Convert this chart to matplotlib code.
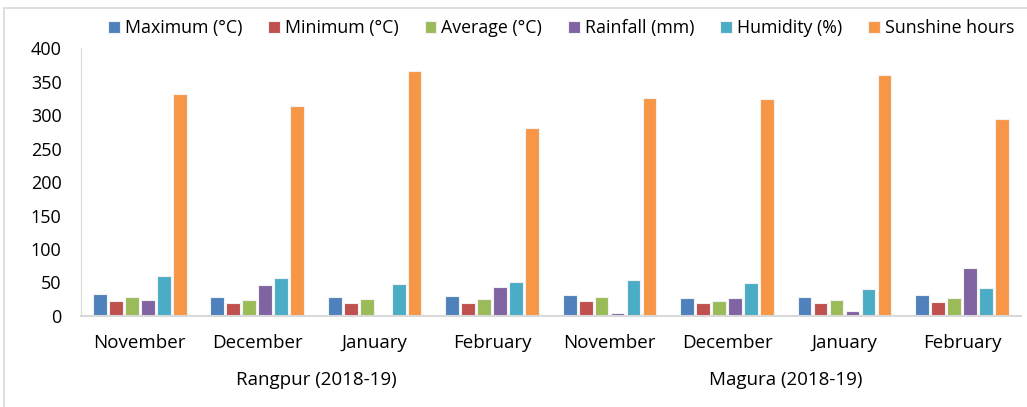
import numpy as np
import matplotlib
matplotlib.use('Agg')
import matplotlib.pyplot as plt
from matplotlib.patches import Rectangle

months = ['November', 'December', 'January', 'February',
          'November', 'December', 'January', 'February']
places = ['Rangpur (2018-19)', 'Magura (2018-19)']

series_names = ['Maximum (°C)', 'Minimum (°C)', 'Average (°C)',
                'Rainfall (mm)', 'Humidity (%)', 'Sunshine hours']
maximum = [33, 28, 29, 30, 32, 27, 29, 31]
minimum = [22, 20, 20, 20, 23, 20, 20, 21]
average = [28, 24, 25, 26, 28, 23, 24, 27]
rainfall = [24, 46, 1, 43, 4.5, 27, 7, 72]
humidity = [60, 57, 48, 50, 53, 49, 41, 42]
sunshine = [331, 314, 365, 280, 326, 324, 360, 294]

colores = ['#4F81BD', '#C0504D', '#9BBB59', '#8064A2', '#4BACC6', '#F79646']

plt.rcParams['font.family'] = ['Open Sans', 'DejaVu Sans']

fig = plt.figure(figsize=(10.27, 4.07), dpi=100)
ax = fig.add_axes([0.0789, 0.2236, 0.915, 0.6584])

x = np.arange(len(months))
width = 0.117
pitch = 0.136
todos = [maximum, minimum, average, rainfall, humidity, sunshine]
for i, valores in enumerate(todos):
    off = (i - 2.5) * pitch
    ax.bar(x + off, valores, width, color=colores[i], edgecolor='#F2F2F2',
           linewidth=0.8, label=series_names[i], zorder=2)

ax.set_xlim(-0.5, len(months) - 0.5)
ax.set_ylim(0, 400)
ax.set_yticks(range(0, 401, 50))
ax.tick_params(axis='y', length=0, labelsize=13, pad=14)
ax.set_xticks(x)
ax.set_xticklabels(months)
ax.tick_params(axis='x', length=0, labelsize=13.5, pad=13)

for s in ['top', 'right']:
    ax.spines[s].set_visible(False)
ax.spines['left'].set_color('#D9D9D9')
ax.spines['bottom'].set_color('#D9D9D9')
ax.spines['bottom'].set_linewidth(1.5)

# etiquetas de lugar
for k, nombre in enumerate(places):
    ax.text(k * 4 + 1.5, -0.238, nombre, transform=ax.get_xaxis_transform(),
            ha='center', va='center', fontsize=13.5)

ax.legend(loc='lower center', bbox_to_anchor=(0.511, 1.0), ncol=6, frameon=False,
          fontsize=12.8, handlelength=0.65, handleheight=0.65, handletextpad=0.3,
          columnspacing=1.45, borderaxespad=0.2)

fig.patches.append(Rectangle((0.004, -0.01), 1.0, 0.99, transform=fig.transFigure,
                             fill=False, edgecolor='#D9D9D9', linewidth=1.2))

fig.savefig('out.png', dpi=100)
